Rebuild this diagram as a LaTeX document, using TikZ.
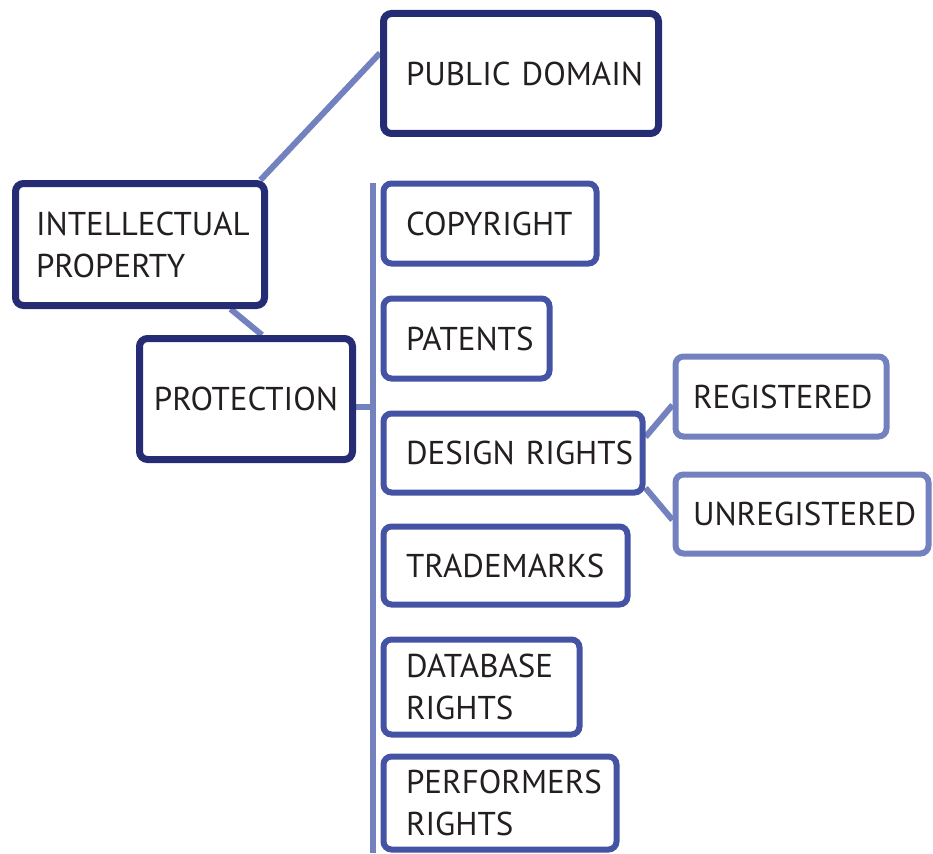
\documentclass[tikz,border=0pt]{standalone}
\usepackage{fontspec}
\setmainfont{PT Sans}
\usetikzlibrary{calc}
\pgfdeclarelayer{bg}
\pgfsetlayers{bg,main}
\definecolor{cdark}{HTML}{262C74}
\definecolor{cmid}{HTML}{4453A4}
\definecolor{clight}{HTML}{7381BF}
\definecolor{ctext}{HTML}{231F20}
\tikzset{
  box/.style={draw, rounded corners=8pt, fill=white, text=ctext,
    inner xsep=22.5pt, inner ysep=0pt, align=left,
    font=\fontsize{33}{42}\selectfont},
  darkbox/.style={box, draw=cdark, line width=7pt},
  midbox/.style={box, draw=cmid, line width=6pt},
  lightbox/.style={box, draw=clight, line width=6pt},
  conn/.style={draw=clight, line width=6pt},
}
% style, name, cx, cy, W, H, text ; text starts #8pt inside the outer edge
\newcommand{\bx}[8]{%
  \node[#1, minimum width=#5pt-7pt, minimum height=#6pt-7pt,
        inner xsep=#8pt-3.5pt, text width=#5pt-2*#8pt] (#2) at (#3,#4) {#7};}
\begin{document}
\begin{tikzpicture}[x=1pt,y=-1pt]
\useasboundingbox (0,0) rectangle (933,853);
\bx{darkbox}{pd}{521}{73.5}{282}{127}{\mbox{PUBLIC DOMAIN}}{26}
\bx{darkbox}{ip}{140}{244.5}{256}{129}{\mbox{INTELLECTUAL}\\\mbox{PROPERTY}}{24}
\bx{darkbox,align=center}{prot}{246}{399}{220}{128}{\mbox{PROTECTION}}{15}
\bx{midbox}{copy}{490}{223.5}{220}{87}{\mbox{COPYRIGHT}}{26}
\bx{midbox}{pat}{466.5}{338.5}{173}{87}{\mbox{PATENTS}}{26}
\bx{midbox}{des}{513}{453}{266}{86}{\mbox{DESIGN RIGHTS}}{26}
\bx{lightbox}{reg}{781}{396.5}{218}{87}{\mbox{REGISTERED}}{21}
\bx{lightbox}{unreg}{802}{514}{260}{86}{\mbox{UNREGISTERED}}{21}
\bx{midbox}{trade}{505.5}{565.5}{251}{85}{\mbox{TRADEMARKS}}{26}
\bx{midbox}{db}{481.5}{687}{203}{102}{\mbox{DATABASE}\\\mbox{RIGHTS}}{26}
\bx{midbox}{perf}{500}{803}{240}{100}{\mbox{PERFORMERS}\\\mbox{RIGHTS}}{26}
\coordinate (vtop) at (373,183);
\coordinate (vbot) at (373,853);
\begin{pgfonlayer}{bg}
\draw[conn] ($(ip.north east)+(-7.5,0)$) -- ($(pd.west)+(0,-20.5)$);
\draw[conn] ($(ip.south east)+(-37.5,0)$) -- ($(prot.north)+(16,0)$);
\draw[conn] (vtop) -- (vbot);
\draw[conn] ($(prot.east)+(0,8)$) -- (vtop |- {$(prot.east)+(0,8)$});
\draw[conn] ($(des.east)+(0,-16)$) -- ($(reg.west)+(0,8.5)$);
\draw[conn] ($(des.east)+(0,35)$) -- ($(unreg.west)+(0,6)$);
\end{pgfonlayer}
\end{tikzpicture}
\end{document}
